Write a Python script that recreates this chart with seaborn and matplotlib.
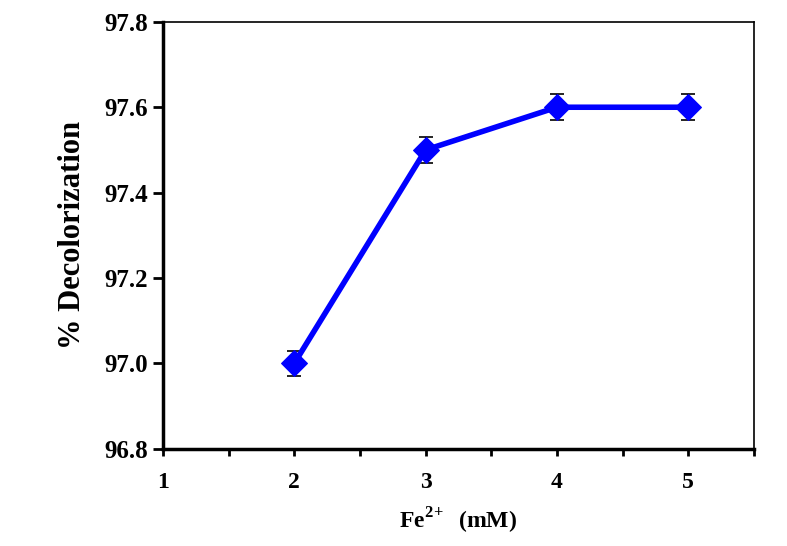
import numpy as np
import seaborn as sns
import matplotlib.pyplot as plt

fe_conc = [2, 3, 4, 5]
decolorization = [97.0, 97.5, 97.6, 97.6]
err = [0.03, 0.03, 0.03, 0.03]
y_ticks = [96.8, 97.0, 97.2, 97.4, 97.6, 97.8]

sns.set_style("ticks")
plt.rcParams["font.family"] = ["Liberation Serif", "DejaVu Serif"]
plt.rcParams["font.weight"] = "bold"
plt.rcParams["text.color"] = "black"
plt.rcParams["axes.labelcolor"] = "black"
plt.rcParams["xtick.color"] = "black"
plt.rcParams["ytick.color"] = "black"
plt.rcParams["mathtext.fontset"] = "custom"
plt.rcParams["mathtext.rm"] = "Liberation Serif:bold"
plt.rcParams["mathtext.bf"] = "Liberation Serif:bold"

fig = plt.figure(figsize=(7.87, 5.46), dpi=100)
ax = fig.add_axes([0.207, 0.178, 0.751, 0.782])

ax.errorbar(fe_conc, decolorization, yerr=err, fmt="none", ecolor="black",
            elinewidth=1.2, capsize=5, capthick=1.2, zorder=1)
sns.lineplot(x=fe_conc, y=decolorization, ax=ax, color="#0000ff", linewidth=4,
             marker="D", markersize=13, markeredgecolor="#0000ff", zorder=2)

ax.set_xlim(1, 5.5)
ax.set_ylim(96.8, 97.8)
ax.set_xticks([1, 2, 3, 4, 5])
ax.set_xticks([1.5, 2.5, 3.5, 4.5, 5.5], minor=True)
ax.set_yticks(y_ticks)
ax.set_yticklabels([f"{v:.1f}" for v in y_ticks])

ax.tick_params(axis="y", which="both", direction="out", width=2, length=7,
               labelsize=18, pad=4)
ax.tick_params(axis="x", which="both", direction="out", width=2, length=5,
               labelsize=17, pad=12)
for lab in ax.get_xticklabels() + ax.get_yticklabels():
    lab.set_fontweight("bold")

for side in ["left", "bottom"]:
    ax.spines[side].set_linewidth(2.5)
for side in ["top", "right"]:
    ax.spines[side].set_linewidth(1.2)
for s in ax.spines.values():
    s.set_color("black")

ax.set_xlabel("Fe$^{\\mathbf{2\\!+}}$  (mM)", fontsize=17, fontweight="bold", labelpad=9)
ax.set_ylabel("% Decolorization", fontsize=22, fontweight="bold", labelpad=12)

fig.savefig("out.png", dpi=100)
